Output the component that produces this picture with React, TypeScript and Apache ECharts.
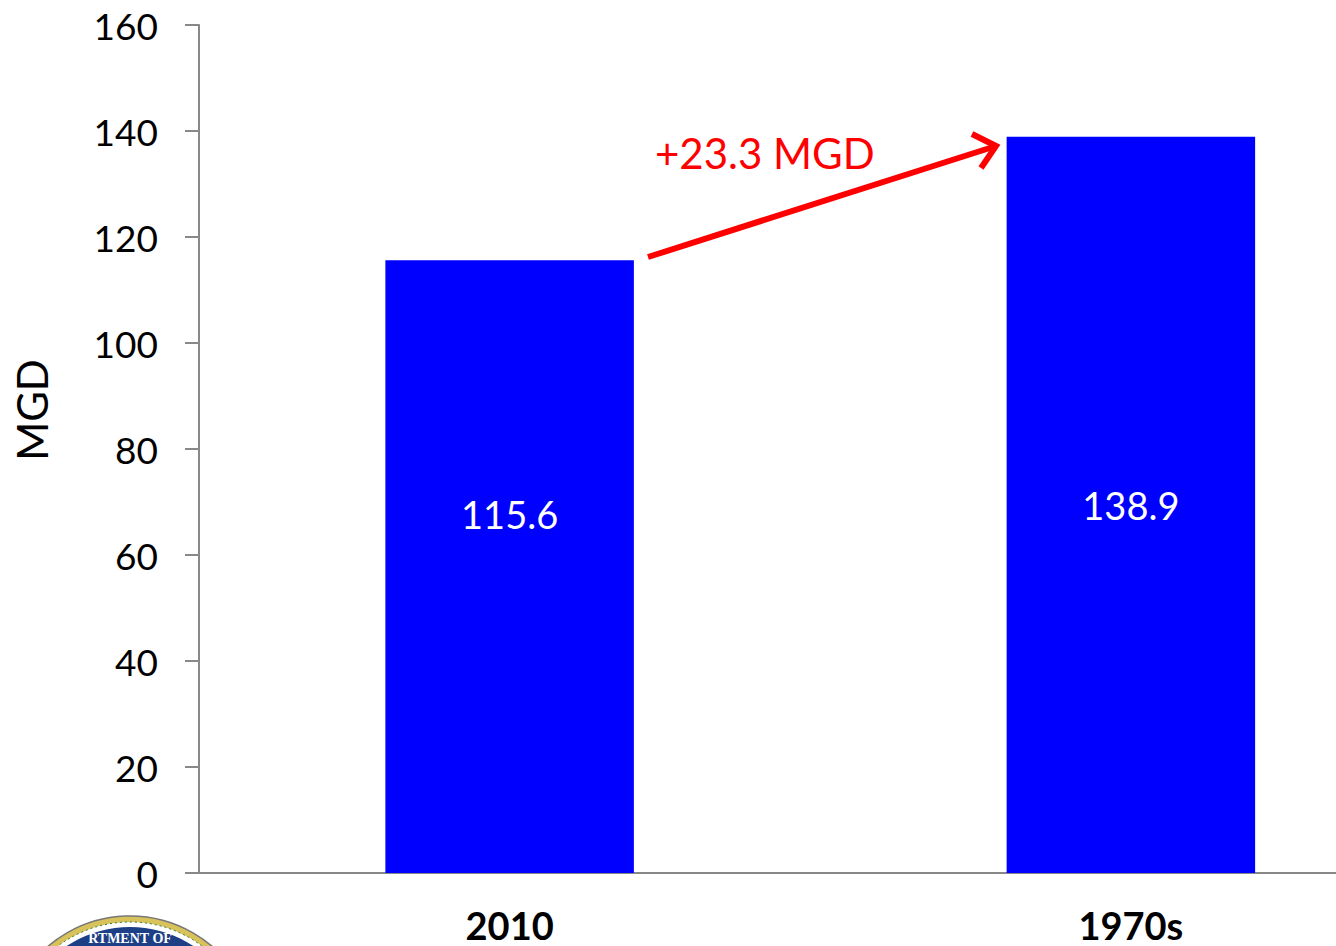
import React, { useEffect, useRef } from "react";
import * as echarts from "echarts";

const categories = ["2010", "1970s"];
const values = [115.6, 138.9];
const yTicks = { min: 0, max: 160, interval: 20 };
const changeLabel = "+23.3 MGD";
const yTitle = "MGD";

export default function App() {
  const ref = useRef<HTMLDivElement>(null);
  useEffect(() => {
    if (!ref.current) return;
    const chart = echarts.init(ref.current, undefined, { renderer: "svg" });
    const font = "Lato, 'Open Sans', sans-serif";
    chart.setOption({
      animation: false,
      grid: { left: 199, top: 25, bottom: 73, right: -105.5, outerBoundsMode: "none", containLabel: false },
      xAxis: {
        type: "category",
        data: categories,
        axisLine: { lineStyle: { color: "#888", width: 2 } },
        axisTick: { show: false },
        axisLabel: {
          margin: 33,
          color: "#000",
          fontSize: 38,
          fontWeight: "bold",
          fontFamily: font,
        },
      },
      yAxis: {
        type: "value",
        min: yTicks.min,
        max: yTicks.max,
        interval: yTicks.interval,
        splitLine: { show: false },
        axisLine: { show: true, lineStyle: { color: "#888", width: 2 } },
        axisTick: { show: true, length: 14, lineStyle: { color: "#888", width: 2 } },
        axisLabel: { margin: 41, color: "#000", fontSize: 37, fontFamily: font },
      },
      series: [
        {
          type: "bar",
          barWidth: "40%",
          data: values.map((v, i) => ({
            value: v,
            label: i === 0 ? { offset: [0, -53] } : {},
          })),
          itemStyle: { color: "#0000FF" },
          label: {
            show: true,
            position: "inside",
            color: "#fff",
            fontSize: 38,
            fontFamily: font,
          },
        },
      ],
      graphic: [
        {
          type: "text",
          x: 32,
          y: 410,
          rotation: Math.PI / 2,
          style: {
            text: yTitle,
            fill: "#000",
            fontSize: 42,
            fontFamily: font,
            align: "center",
            verticalAlign: "middle",
          },
        },
        {
          type: "line",
          shape: { x1: 648, y1: 257, x2: 993, y2: 147 },
          style: { stroke: "#FF0000", lineWidth: 6 },
        },
        {
          type: "polyline",
          shape: { points: [[972, 134], [996, 146], [981, 168]] },
          style: { stroke: "#FF0000", lineWidth: 6, fill: "none" },
        },
        {
          type: "text",
          x: 655,
          y: 153,
          style: {
            text: changeLabel,
            fill: "#FF0000",
            fontSize: 42,
            fontFamily: font,
            verticalAlign: "middle",
          },
        },
        {
          type: "group",
          children: [
            { type: "circle", shape: { cx: 130, cy: 1042, r: 126 }, style: { fill: "#d8c25a", stroke: "#777", lineWidth: 1.5 } },
            { type: "circle", shape: { cx: 130, cy: 1042, r: 120 }, style: { fill: "#fff", stroke: "#2a7a3a", lineWidth: 1, lineDash: [2, 3] } },
            { type: "circle", shape: { cx: 130, cy: 1042, r: 115 }, style: { fill: "#1c3f86" } },
            {
              type: "text",
              x: 130,
              y: 938,
              style: {
                text: "RTMENT OF",
                fill: "#fff",
                fontSize: 14,
                fontWeight: "bold",
                fontFamily: "'Liberation Serif', serif",
                align: "center",
                verticalAlign: "middle",
              },
            },
          ],
        },
      ],
    });
    return () => chart.dispose();
  }, []);
  return (
    <div
      ref={ref}
      style={{ position: "fixed", left: 0, top: 0, width: 1336, height: 946, background: "#fff" }}
    />
  );
}
